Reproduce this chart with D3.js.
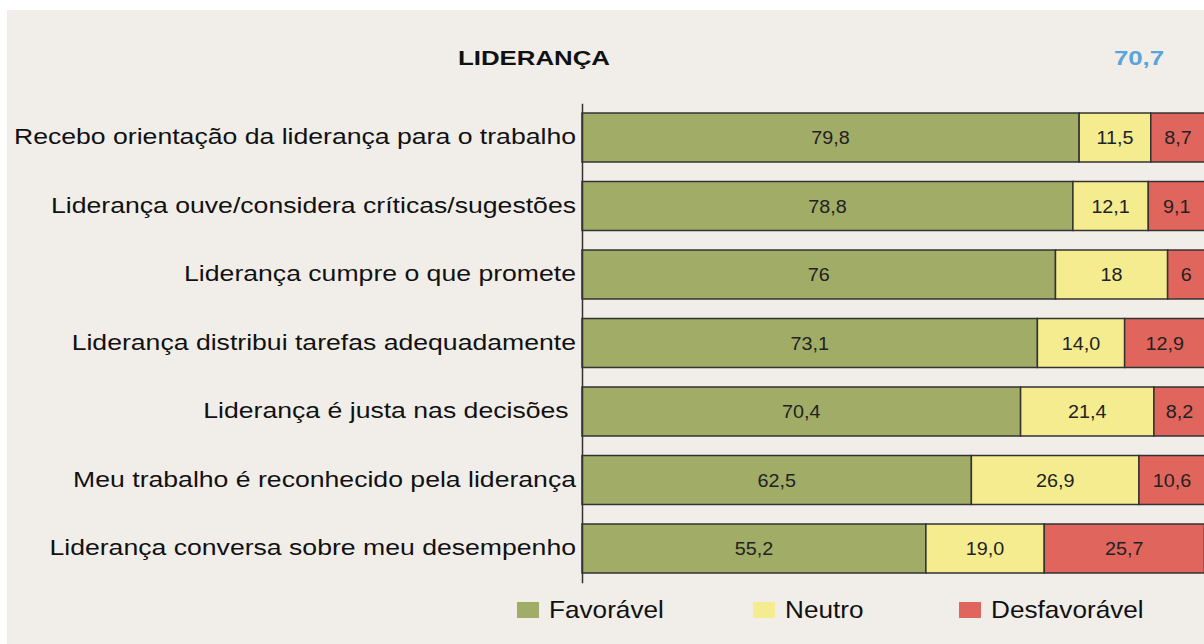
<!DOCTYPE html>
<html>
<head>
<meta charset="utf-8">
<script src="https://cdn.jsdelivr.net/npm/d3@7"></script>
<style>
  html, body { margin: 0; padding: 0; background: #ffffff; }
  svg { display: block; }
  text { font-family: "Liberation Sans", Arial, sans-serif; }
</style>
</head>
<body>
<svg id="chart" width="1204" height="644"></svg>
<script>
const categories = [
  "Recebo orientação da liderança para o trabalho",
  "Liderança ouve/considera críticas/sugestões",
  "Liderança cumpre o que promete",
  "Liderança distribui tarefas adequadamente",
  "Liderança é justa nas decisões ",
  "Meu trabalho é reconhecido pela liderança",
  "Liderança conversa sobre meu desempenho"
];
const favoravel = [79.8, 78.8, 76, 73.1, 70.4, 62.5, 55.2];
const neutro = [11.5, 12.1, 18, 14.0, 21.4, 26.9, 19.0];
const desfavoravel = [8.7, 9.1, 6, 12.9, 8.2, 10.6, 25.7];
const favLabels = ["79,8", "78,8", "76", "73,1", "70,4", "62,5", "55,2"];
const neuLabels = ["11,5", "12,1", "18", "14,0", "21,4", "26,9", "19,0"];
const desLabels = ["8,7", "9,1", "6", "12,9", "8,2", "10,6", "25,7"];
const seriesNames = ["Favorável", "Neutro", "Desfavorável"];
const title = "LIDERANÇA";
const overall = "70,7";

const colors = ["#A1AC67", "#F4EC8F", "#E0655D"];

// horizontally stretch glyphs about each text's anchor x (reference glyphs are wider than Arial)
function stretch(sel, factor) {
  sel.each(function() {
    const ax = +(this.getAttribute("x") || 0);
    d3.select(this).attr("transform", `translate(${ax},0) scale(${factor},1) translate(${-ax},0)`);
  });
}

const svg = d3.select("#chart");
svg.append("rect").attr("x", 7).attr("y", 10).attr("width", 1197).attr("height", 634).attr("fill", "#F1EEEA");

const x = d3.scaleLinear().domain([0, 100]).range([582, 1205]);
const y = d3.scaleBand().domain(categories).range([103.25, 582.75]).paddingInner(0.285).paddingOuter(0.1425);

const rows = categories.map((c, i) => ({
  cat: c,
  vals: [favoravel[i], neutro[i], desfavoravel[i]],
  labels: [favLabels[i], neuLabels[i], desLabels[i]]
}));

const g = svg.append("g");
rows.forEach(r => {
  let acc = 0;
  r.vals.forEach((v, k) => {
    const x0 = x(acc), x1 = x(acc + v);
    g.append("rect")
      .attr("x", x0).attr("y", y(r.cat))
      .attr("width", x1 - x0).attr("height", y.bandwidth())
      .attr("fill", colors[k])
      .attr("stroke", "#333")
      .attr("stroke-width", 1.5);
    g.append("text")
      .attr("class", "val")
      .attr("x", (x0 + x1) / 2).attr("y", y(r.cat) + y.bandwidth() / 2)
      .attr("dy", "0.38em")
      .attr("text-anchor", "middle")
      .attr("font-size", 17.5)
      .attr("fill", "#222")
      .text(r.labels[k]);
    acc += v;
  });
});
stretch(g.selectAll("text.val"), 1.13);

// category axis
const axis = d3.axisLeft(y).tickSize(0).tickPadding(6);
const ag = svg.append("g").attr("transform", "translate(582,0)").call(axis);
ag.select(".domain").attr("stroke", "#333").attr("stroke-width", 1.5);
ag.selectAll("text").attr("font-size", 22).attr("fill", "#111").attr("dy", "0.3em")
  .style("font-family", "'Liberation Sans', Arial, sans-serif")
  .style("white-space", "pre");
stretch(ag.selectAll("text"), 1.21);

// title
const tg = svg.append("g");
tg.append("text").attr("x", 534).attr("y", 65).attr("text-anchor", "middle")
  .attr("font-size", 21).attr("font-weight", "bold").attr("fill", "#111").text(title);
tg.append("text").attr("x", 1139).attr("y", 65).attr("text-anchor", "middle")
  .attr("font-size", 21).attr("font-weight", "bold").attr("fill", "#5BA4DA").text(overall);
stretch(tg.selectAll("text"), 1.23);

// legend
const legendX = [517, 753, 959];
const lg = svg.append("g");
seriesNames.forEach((n, k) => {
  lg.append("rect").attr("x", legendX[k]).attr("y", 602).attr("width", 22).attr("height", 16).attr("fill", colors[k]);
  lg.append("text").attr("x", legendX[k] + 32).attr("y", 618)
    .attr("font-size", 24).attr("fill", "#111").text(n);
});
stretch(lg.selectAll("text"), 1.09);
</script>
</body>
</html>
